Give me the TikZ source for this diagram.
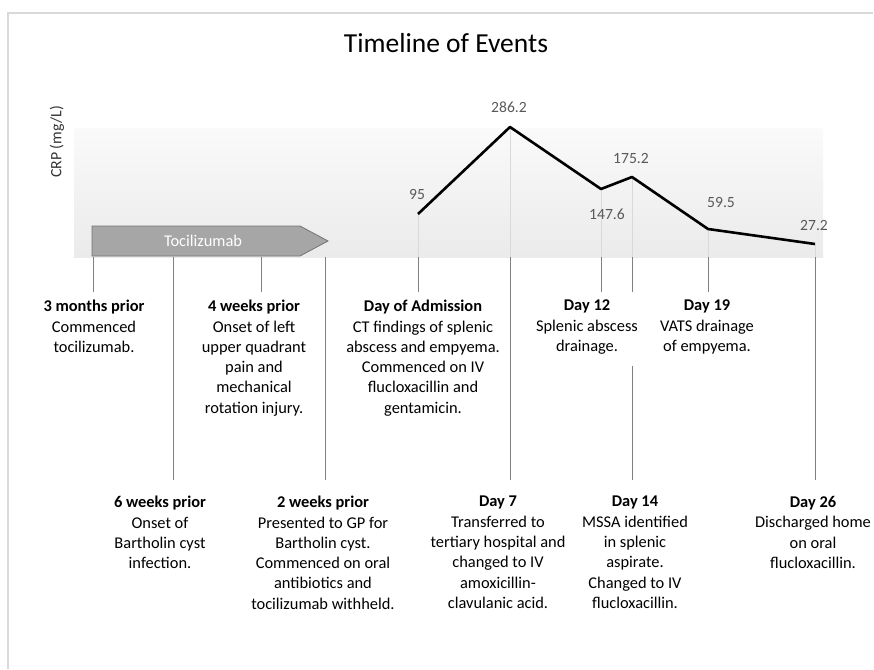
\documentclass[tikz,border=0pt]{standalone}
\usepackage{fontspec}
\setmainfont{Carlito}
\begin{document}
\begin{tikzpicture}[x=1pt, y=-1pt,
    event/.style={align=center, anchor=north, inner sep=0pt,
      font=\fontsize{16.4}{20.3}\selectfont},
    value/.style={text=black!65, inner sep=0pt,
      font=\fontsize{15.6}{18}\selectfont},
    guide/.style={draw=black!15, line width=0.8pt},
    tick/.style={draw=black!50, line width=0.9pt, shorten >=8pt},
    longtick/.style={tick, shorten >=16pt},
    crp/.style={line width=2.6pt, line join=round}]

  \useasboundingbox (0,0) rectangle (874,669);
  \draw[black!15, line width=1.2pt] (8,669) |- (873,13);

  \node[font=\fontsize{27.5}{30}\selectfont] (title) at (446,43) {Timeline of Events};
  \node[rotate=90, text=black!80, font=\fontsize{15.8}{18}\selectfont] (yaxis) at (57,142) {CRP (mg/L)};

  \shade[top color=black!2, bottom color=black!8] (74,128) rectangle (823,257);

  % drug bar
  \draw[fill=black!35, draw=black!55, line width=0.8pt]
    (92,226) -- (300,226) -- (328,241) -- (300,256) -- (92,256) -- cycle;
  \node[text=white, font=\fontsize{16.4}{18}\selectfont] (toci) at (203,241) {Tocilizumab};

  % points on the time axis
  \foreach \n/\x in {m3/93, w6/173, w4/261, w2/325, d0/418, d7/510,
                     d12/601, d14/632, d19/708, d26/815}
    \coordinate (b\n) at (\x,257);

  % CRP values
  \coordinate (p0) at (418,214);
  \coordinate (p7) at (510,127);
  \coordinate (p12) at (601,189);
  \coordinate (p14) at (632,177);
  \coordinate (p19) at (708,229);
  \coordinate (p26) at (815,244);

  \foreach \n in {0,7,12,14,19,26}
    \draw[guide] (p\n) -- (bd\n);
  \draw[crp] (p0) -- (p7) -- (p12) -- (p14) -- (p19) -- (p26);

  \node[value] (v0) at (417,194) {95};
  \node[value] (v7) at (509,107) {286.2};
  \node[value] (v12) at (607,214) {147.6};
  \node[value] (v14) at (631,158) {175.2};
  \node[value] (v19) at (721,202) {59.5};
  \node[value] (v26) at (814,225) {27.2};

  % events above the fold
  \node[event] (m3) at (94,300) {\textbf{3 months prior}\\Commenced\\tocilizumab.};
  \node[event] (w4) at (254,300) {\textbf{4 weeks prior}\\Onset of left\\upper quadrant\\pain and\\mechanical\\rotation injury.};
  \node[event] (d0) at (423,300) {\textbf{Day of Admission}\\CT findings of splenic\\abscess and empyema.\\Commenced on IV\\flucloxacillin and\\gentamicin.};
  \node[event] (d12) at (587,300) {\textbf{Day 12}\\Splenic abscess\\drainage.};
  \node[event] (d19) at (707,300) {\textbf{Day 19}\\VATS drainage\\of empyema.};

  % events below
  \node[event] (w6) at (160,496) {\textbf{6 weeks prior}\\Onset of\\Bartholin cyst\\infection.};
  \node[event] (w2) at (323,496) {\textbf{2 weeks prior}\\Presented to GP for\\Bartholin cyst.\\Commenced on oral\\antibiotics and\\tocilizumab withheld.};
  \node[event] (d7) at (498,496) {\textbf{Day 7}\\Transferred to\\tertiary hospital and\\changed to IV\\amoxicillin-\\clavulanic acid.};
  \node[event] (d14) at (635,496) {\textbf{Day 14}\\MSSA identified\\in splenic\\aspirate.\\Changed to IV\\flucloxacillin.};
  \node[event] (d26) at (813,496) {\textbf{Day 26}\\Discharged home\\on oral\\flucloxacillin.};

  % ticks
  \foreach \n in {m3,w4,d0,d12,d19}
    \draw[tick] (b\n) -- (b\n |- \n.north);
  \foreach \n in {w6,w2,d7,d26}
    \draw[longtick] (b\n) -- (b\n |- \n.north);
  \draw[tick] (bd14) -- (bd14 |- d12.north);
  \draw[longtick, shorten <=11pt] (bd14 |- d12.south) -- (bd14 |- d14.north);
\end{tikzpicture}
\end{document}
